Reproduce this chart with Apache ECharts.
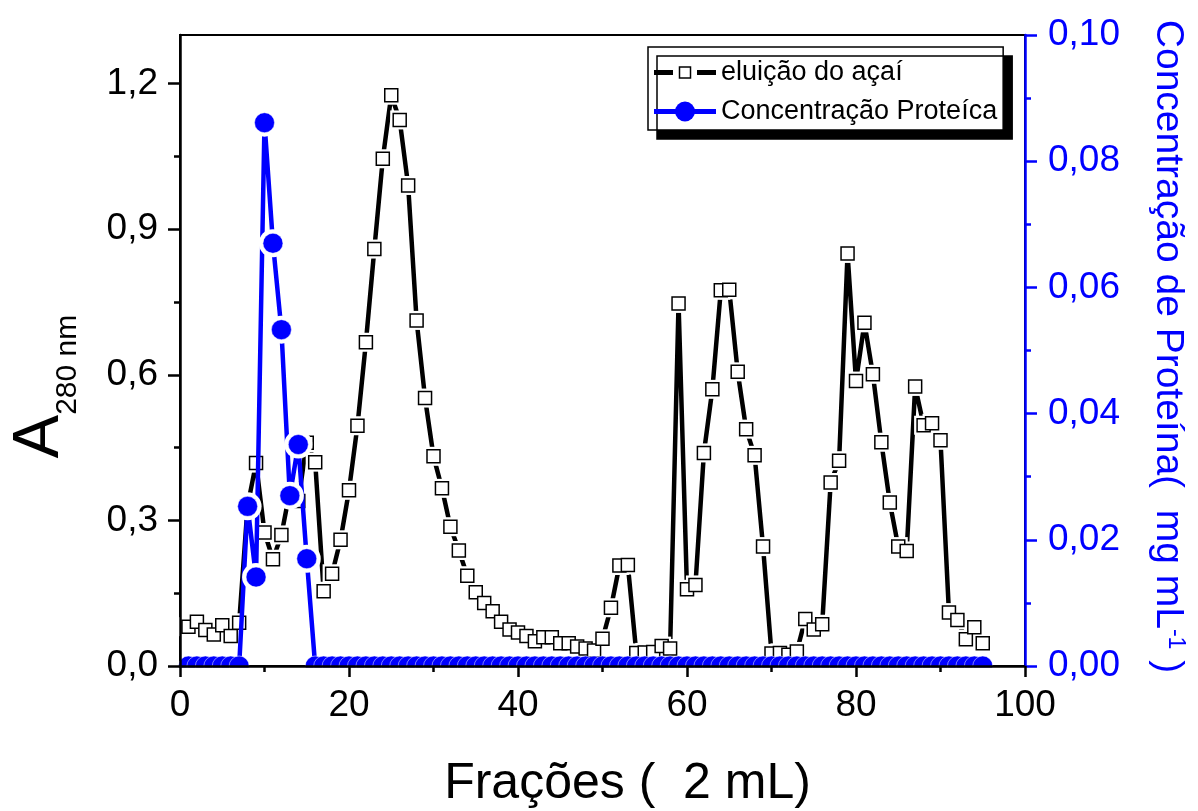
<!DOCTYPE html>
<html>
<head>
<meta charset="utf-8">
<script src="https://cdn.jsdelivr.net/npm/echarts@6/dist/echarts.min.js"></script>
<style>
html,body{margin:0;padding:0;background:#fff;}
#chart{width:1198px;height:811px;}
</style>
</head>
<body>
<div id="chart"></div>
<script>
// ---------- data ----------
const fractions = [1,2,3,4,5,6,7,8,9,10,11,12,13,14,15,16,17,18,19,20,
  21,22,23,24,25,26,27,28,29,30,31,32,33,34,35,36,37,38,39,40,
  41,42,43,44,45,46,47,48,49,50,51,52,53,54,55,56,57,58,59,60,
  61,62,63,64,65,66,67,68,69,70,71,72,73,74,75,76,77,78,79,80,
  81,82,83,84,85,86,87,88,89,90,91,92,93,94,95];

const absorbance = [0.081,0.091,0.074,0.065,0.084,0.062,0.089,0.33,0.418,0.275,
  0.220,0.270,0.36,0.34,0.46,0.42,0.154,0.19,0.26,0.362,
  0.495,0.667,0.859,1.045,1.176,1.125,0.99,0.712,0.552,0.432,
  0.366,0.287,0.238,0.186,0.152,0.13,0.113,0.091,0.075,0.069,
  0.062,0.051,0.059,0.059,0.047,0.047,0.040,0.036,0.032,0.056,
  0.12,0.207,0.208,0.027,0.028,0.029,0.041,0.036,0.747,0.158,
  0.167,0.439,0.57,0.774,0.775,0.606,0.488,0.434,0.246,0.026,
  0.027,0.023,0.03,0.097,0.075,0.086,0.378,0.423,0.85,0.587,
  0.707,0.601,0.461,0.337,0.246,0.237,0.576,0.496,0.5,0.465,
  0.11,0.095,0.055,0.08,0.047];

const protein = [0,0,0,0,0,0,0,0.0253,0.0141,0.0861,
  0.0670,0.0533,0.0270,0.0351,0.0170,0,0,0,0,0,
  0,0,0,0,0,0,0,0,0,0,
  0,0,0,0,0,0,0,0,0,0,
  0,0,0,0,0,0,0,0,0,0,
  0,0,0,0,0,0,0,0,0,0,
  0,0,0,0,0,0,0,0,0,0,
  0,0,0,0,0,0,0,0,0,0,
  0,0,0,0,0,0,0,0,0,0,
  0,0,0,0,0];

const leftTickValues = [0, 0.3, 0.6, 0.9, 1.2];
const leftMinorValues = [0.15, 0.45, 0.75, 1.05];

const NAME_A = 'eluição do açaí';
const NAME_P = 'Concentração Proteíca';

// ---------- chart ----------
const FONT = "'Liberation Sans', Arial, sans-serif";
const BLUE = '#0000ff';

const blackPts = fractions.map((f, i) => [f, absorbance[i]]);
const bluePts = fractions.map((f, i) => [f, protein[i]]);

function svgIcon(svg) {
  return 'image://data:image/svg+xml;charset=utf-8,' + encodeURIComponent(svg);
}
const iconA = svgIcon("<svg xmlns='http://www.w3.org/2000/svg' width='62' height='26' viewBox='0 0 62 26'>" +
  "<path d='M0 13H19M43 13H62' stroke='#000' stroke-width='5'/>" +
  "<rect x='25.5' y='7.5' width='11' height='11' fill='#fff' stroke='#000' stroke-width='1.5'/></svg>");
const iconP = svgIcon("<svg xmlns='http://www.w3.org/2000/svg' width='62' height='26' viewBox='0 0 62 26'>" +
  "<path d='M0 13H62' stroke='#0000ff' stroke-width='5'/>" +
  "<circle cx='31' cy='13' r='10' fill='#0000ff'/></svg>");

const chart = echarts.init(document.getElementById('chart'), null, {renderer: 'canvas'});

const option = {
  animation: false,
  backgroundColor: '#fff',
  grid: {
    left: 180, right: 173, top: 35, bottom: 145,
    show: true, borderColor: '#000', borderWidth: 2, backgroundColor: 'transparent',
    outerBoundsMode: 'none'
  },
  legend: {
    left: 648, top: 47,
    orient: 'vertical',
    padding: [12, 6, 5, 6],
    itemWidth: 62, itemHeight: 26, itemGap: 12,
    backgroundColor: '#fff',
    borderColor: '#000', borderWidth: 1.5, borderRadius: 0,
    shadowColor: '#000', shadowOffsetX: 9, shadowOffsetY: 9, shadowBlur: 0,
    textStyle: {fontSize: 27, fontFamily: FONT, color: '#000', lineHeight: 26},
    selectedMode: false,
    z: 20,
    data: [{name: NAME_A, icon: iconA}, {name: NAME_P, icon: iconP}]
  },
  xAxis: {
    type: 'value', min: 0, max: 100, interval: 20, z: 10,
    axisLine: {show: true, onZero: false, lineStyle: {color: '#000', width: 2.5}},
    axisTick: {show: true, inside: false, length: 11, lineStyle: {color: '#000', width: 2.5}},
    minorTick: {show: true, splitNumber: 2, length: 6, lineStyle: {color: '#000', width: 2.5}},
    axisLabel: {margin: 21, fontSize: 37, fontFamily: FONT, color: '#000'},
    splitLine: {show: false},
    name: 'Frações (  2 mL)',
    nameLocation: 'middle',
    nameGap: 93,
    nameTextStyle: {fontSize: 50, fontFamily: FONT, color: '#000', padding: [0, 0, 0, 50]}
  },
  yAxis: [
    {
      type: 'value', position: 'left', min: 0, max: 1.3, interval: 0.3, z: 10,
      axisLine: {show: true, onZero: false, lineStyle: {color: '#000', width: 2.5}},
      axisTick: {show: true, inside: false, length: 12, customValues: leftTickValues,
        lineStyle: {color: '#000', width: 2.5}},
      minorTick: {show: false},
      axisLabel: {margin: 22, fontSize: 37, fontFamily: FONT, color: '#000',
        customValues: leftTickValues,
        formatter: v => v.toFixed(1).replace('.', ',')},
      splitLine: {show: false},
      name: '{a|A}{s|280 nm}',
      nameLocation: 'middle',
      nameRotate: 90,
      nameGap: 97,
      nameTextStyle: {
        color: '#000', fontFamily: FONT, padding: [0, 72, 0, 0],
        rich: {
          a: {fontSize: 65, fontFamily: FONT, color: '#000', verticalAlign: 'top', padding: [0, 0, 10, 0]},
          s: {fontSize: 30, fontFamily: FONT, color: '#000', verticalAlign: 'bottom'}
        }
      }
    },
    {
      type: 'value', position: 'right', min: 0, max: 0.1, interval: 0.02, z: 10,
      axisLine: {show: true, onZero: false, lineStyle: {color: BLUE, width: 2.5}},
      axisTick: {show: true, inside: false, length: 12, lineStyle: {color: BLUE, width: 2.5}},
      minorTick: {show: true, splitNumber: 2, length: 6, lineStyle: {color: BLUE, width: 2.5}},
      axisLabel: {margin: 23, fontSize: 37, fontFamily: FONT, color: BLUE,
        formatter: v => v.toFixed(2).replace('.', ',')},
      splitLine: {show: false},
      name: 'Concentração de Proteína(  mg mL{sup|-1} )',
      nameLocation: 'middle',
      nameRotate: -90,
      nameGap: 123,
      nameTextStyle: {
        fontSize: 39, fontFamily: FONT, color: BLUE, padding: [0, 8, 0, 0],
        rich: {sup: {fontSize: 23, fontFamily: FONT, color: BLUE, verticalAlign: 'top'}}
      }
    },
    {
      type: 'value', position: 'left', min: 0, max: 1.3, interval: 0.3, z: 10,
      axisLine: {show: false},
      axisTick: {show: true, inside: false, length: 6, customValues: leftMinorValues,
        lineStyle: {color: '#000', width: 2.5}},
      axisLabel: {show: false},
      splitLine: {show: false}
    }
  ],
  graphic: [
    {type: 'rect', z: 8, silent: true, shape: {x: 150, y: 667.5, width: 900, height: 14}, style: {fill: '#fff'}}
  ],
  series: [
    {name: NAME_A, type: 'line', z: 2, data: blackPts, showSymbol: false, symbol: 'none',
      lineStyle: {color: '#000', width: 4.5}, itemStyle: {color: '#000'}, silent: true},
    {name: NAME_A, type: 'scatter', z: 3, data: blackPts, symbol: 'rect', symbolSize: 19,
      itemStyle: {color: '#fff', opacity: 1}, silent: true},
    {name: NAME_A, type: 'scatter', z: 4, data: blackPts, symbol: 'rect', symbolSize: 13,
      itemStyle: {color: '#fff', borderColor: '#000', borderWidth: 1.5, opacity: 1}},
    {name: NAME_P, type: 'line', z: 5, yAxisIndex: 1, data: bluePts, showSymbol: false, symbol: 'none',
      lineStyle: {color: BLUE, width: 4.5}, itemStyle: {color: BLUE}, silent: true},
    {name: NAME_P, type: 'scatter', z: 6, yAxisIndex: 1, data: bluePts, symbol: 'circle',
      symbolSize: v => (v[1] > 0 ? 28 : 0), itemStyle: {color: '#fff', opacity: 1}, silent: true},
    {name: NAME_P, type: 'scatter', z: 7, yAxisIndex: 1, data: bluePts, symbol: 'circle', symbolSize: 20,
      itemStyle: {color: BLUE, borderColor: '#fff', borderWidth: 0.5, opacity: 1}}
  ]
};

chart.setOption(option);
</script>
</body>
</html>
